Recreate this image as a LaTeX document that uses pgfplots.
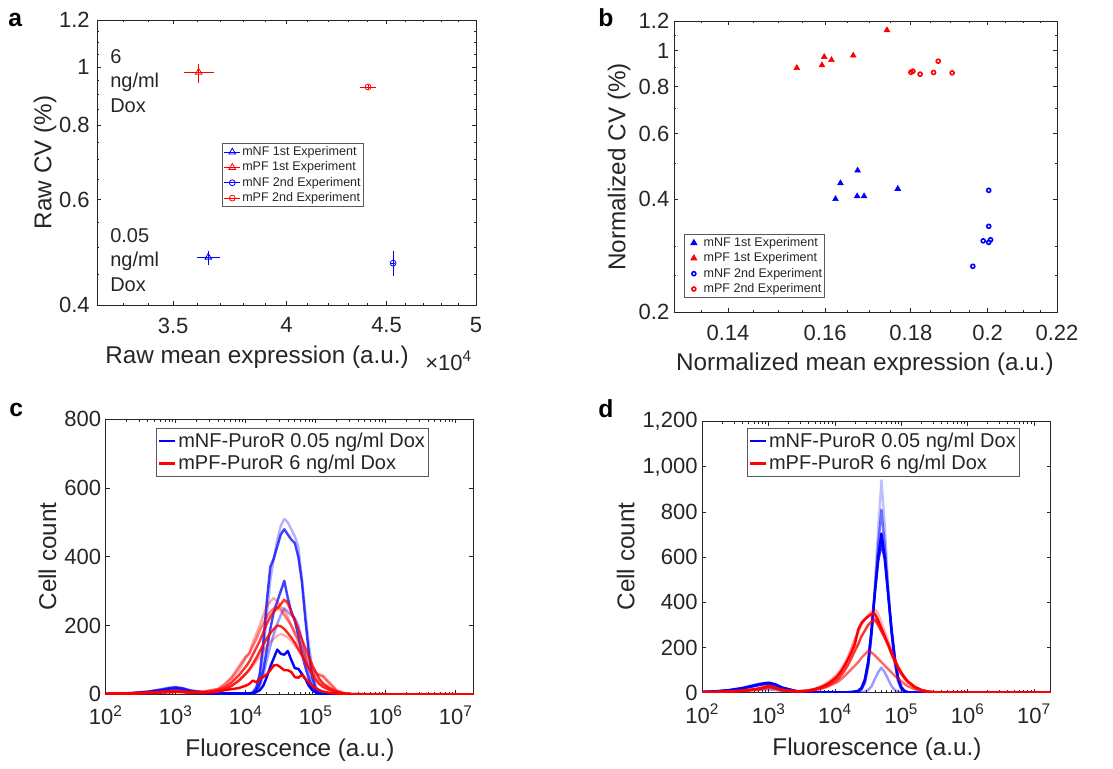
\documentclass[border=0pt]{standalone}
\usepackage{fontspec}
\setmainfont{Liberation Sans}
\usepackage{pgfplots}
\usepackage{pgfplotstable}
\pgfplotsset{compat=1.18}
\definecolor{axg}{gray}{0.15}
\definecolor{mblue}{rgb}{0,0,1}
\definecolor{mred}{rgb}{1,0,0}

\pgfplotstableread{
lx b1 b2 b3 b4 b5 r1 r2 r3 r4 r5 r6
2.0 1 1 1 1 0 1 1 1 1 1 1
2.2 2 2 2 2 1 2 2 2 2 1 2
2.4 4 4 3 4 2 3 3 3 3 2 3
2.6 8 7 6 8 3 5 4 5 5 3 4
2.8 14 13 11 15 6 7 6 7 7 5 6
2.9 18 17 14 19 8 8 7 8 8 6 7
3.0 19 20 15 21 9 9 8 9 9 7 8
3.1 15 17 12 18 7 8 8 8 8 6 8
3.2 10 11 8 12 5 6 7 6 7 5 7
3.4 5 5 4 6 3 6 8 5 6 5 8
3.5 4 4 3 5 2 8 11 6 7 6 12
3.6 3 3 3 4 2 12 15 8 8 8 15
3.7 3 3 2 3 2 20 25 14 14 12 30
3.8 2 2 2 3 2 35 45 25 24 15 50
3.9 2 2 2 2 2 55 70 40 38 18 80
4.0 3 3 2 3 2 80 105 60 58 25 110
4.05 3 3 3 3 3 95 120 72 70 30 118
4.1 5 5 3 3 3 115 150 88 82 40 140
4.15 15 20 10 8 6 135 175 105 95 35 160
4.2 45 60 30 25 12 155 200 125 110 45 185
4.25 120 150 70 55 25 180 230 145 125 50 205
4.3 230 270 130 100 50 205 255 162 140 58 225
4.35 330 370 190 140 80 225 270 178 152 70 240
4.4 395 395 240 175 105 240 280 190 162 84 250
4.45 450 430 270 205 130 250 270 200 170 85 255
4.5 490 465 300 230 118 262 255 198 175 78 245
4.55 510 480 330 250 115 275 245 190 172 70 230
4.6 500 465 280 240 126 265 225 178 165 70 215
4.65 480 450 240 230 100 240 200 165 155 65 200
4.7 460 440 215 222 76 215 175 150 142 50 180
4.75 430 400 170 200 74 190 150 132 128 48 160
4.8 340 330 120 160 60 160 125 115 112 57 140
4.85 240 220 80 110 45 135 100 95 96 45 115
4.9 145 120 45 65 25 110 80 75 80 35 95
4.95 75 50 20 30 12 85 62 58 65 25 75
5.0 25 15 7 10 5 65 50 42 55 18 62
5.05 5 4 2 3 2 45 40 30 58 12 55
5.1 2 1 0 0 0 32 30 22 55 8 52
5.2 0 0 0 0 0 18 15 12 35 4 30
5.3 0 0 0 0 0 8 6 5 12 2 10
5.4 0 0 0 0 0 3 2 2 4 1 3
5.5 0 0 0 0 0 1 0 0 1 0 1
5.7 0 0 0 0 0 0 0 0 0 0 0
6.0 0 0 0 0 0 0 0 0 0 0 0
6.5 0 0 0 0 0 0 0 0 0 0 0
7.0 0 0 0 0 0 0 0 0 0 0 0
7.25 0 0 0 0 0 0 0 0 0 0 0
}\tabc

\pgfplotstableread{
lx b1 b2 b3 b4 b5 r1 r2 r3 r4 r5
2.0 3 3 3 3 2 2 2 2 2 2
2.2 6 5 6 5 3 3 3 3 3 3
2.4 12 10 11 10 5 5 5 5 4 5
2.6 22 19 20 18 8 9 8 9 7 9
2.8 36 32 34 30 12 16 14 15 12 16
2.9 42 38 40 36 14 22 19 20 16 22
3.0 45 42 44 40 15 30 26 28 22 32
3.1 38 35 37 33 12 22 20 21 17 24
3.2 24 22 23 21 8 12 11 12 10 13
3.4 8 7 8 7 3 6 6 6 5 7
3.5 4 4 4 4 2 7 6 7 6 8
3.6 3 3 3 3 2 10 8 10 8 10
3.7 2 2 2 2 1 16 12 17 12 18
3.8 2 2 2 2 1 25 20 27 18 30
3.9 2 2 2 2 1 40 32 42 28 48
4.0 2 2 2 2 1 62 50 65 42 72
4.05 2 2 2 2 1 78 62 80 50 88
4.1 2 2 2 2 1 98 80 100 62 108
4.15 2 2 2 2 1 122 100 125 75 132
4.2 2 2 2 2 1 150 125 155 90 162
4.25 2 2 3 3 1 180 155 190 105 200
4.3 3 3 5 4 1 215 185 230 120 240
4.35 5 5 8 8 1 280 215 265 135 275
4.4 15 15 20 22 2 310 250 300 155 305
4.45 40 45 55 60 5 325 275 325 170 325
4.5 110 120 130 140 12 338 300 345 185 338
4.55 250 260 270 280 28 348 315 360 178 340
4.6 470 450 440 440 60 350 322 370 165 330
4.65 720 650 600 580 90 320 300 350 150 305
4.7 940 810 705 660 111 285 270 310 135 275
4.75 740 650 600 590 90 250 245 270 120 240
4.8 480 450 440 440 60 215 215 230 105 205
4.85 270 270 280 290 30 175 180 190 90 170
4.9 130 140 150 160 12 140 145 150 75 135
4.95 50 55 60 70 4 110 115 115 62 105
5.0 15 18 20 25 1 85 90 88 50 80
5.05 4 5 6 8 0 65 68 65 38 60
5.1 1 1 1 2 0 48 50 48 28 44
5.2 0 0 0 0 0 25 27 25 15 22
5.3 0 0 0 0 0 12 12 12 7 10
5.4 0 0 0 0 0 5 5 5 3 4
5.5 0 0 0 0 0 2 2 2 1 1
5.7 0 0 0 0 0 0 0 0 0 0
6.0 0 0 0 0 0 0 0 0 0 0
6.5 0 0 0 0 0 0 0 0 0 0
7.0 0 0 0 0 0 0 0 0 0 0
7.25 0 0 0 0 0 0 0 0 0 0
}\tabd

\newcommand\tickfont{\fontsize{16.5}{18}\selectfont}
\newcommand\labfont{\fontsize{18.2}{20}\selectfont}

\pgfplotsset{
  mat/.style={
    scale only axis, anchor=south west,
    axis line style={axg, line width=0.6pt},
    every tick/.style={axg, line width=0.6pt},
    major tick length=3pt, minor tick length=1.8pt,
    tick align=inside,
    tick label style={font=\tickfont, text=axg},
    legend cell align=left,
  },
  smallleg/.style={
    legend style={font=\fontsize{9.4}{11}\selectfont, draw=black!65, line width=0.7pt,
      inner xsep=1pt, inner ysep=1pt, row sep=0.8pt, nodes={inner sep=1.2pt}, text=axg},
  },
  bigleg/.style={
    legend style={font=\fontsize{15}{17}\selectfont, draw=black!65, line width=0.7pt,
      inner xsep=1pt, inner ysep=1.8pt, row sep=1.5pt, nodes={inner sep=1.5pt}, text=axg},
    legend image code/.code={\draw[##1] (0pt,0pt) -- (12pt,0pt);},
  },
  hist/.style={line width=1.8pt, line join=round, forget plot},
  logminor/.style={minor xtick={200,300,400,500,600,700,800,900,2000,3000,4000,5000,6000,7000,8000,9000,2e4,3e4,4e4,5e4,6e4,7e4,8e4,9e4,2e5,3e5,4e5,5e5,6e5,7e5,8e5,9e5,2e6,3e6,4e6,5e6,6e6,7e6,8e6,9e6}},
}

\begin{document}
\begin{tikzpicture}[x=0.75pt,y=-0.75pt]
\useasboundingbox (0,0) rectangle (1113,768);

% ---------------- panel a
\begin{axis}[mat, smallleg, at={(72.75pt,-228.75pt)},
  width=284.25pt, height=213.75pt,
  xmode=log, ymode=log, xmin=3.2, xmax=5, ymin=0.4, ymax=1.2,
  xtick={3.5,4,4.5,5}, xticklabels={3.5,4,4.5,5},
  minor xtick={3.3,3.4,3.6,3.7,3.8,3.9,4.1,4.2,4.3,4.4,4.6,4.7,4.8,4.9},
  ytick={0.4,0.6,0.8,1,1.2}, yticklabels={0.4,0.6,0.8,1,1.2},
  minor ytick={0.45,0.5,0.55,0.65,0.7,0.75,0.85,0.9,0.95,1.05,1.1,1.15},
  xticklabel style={yshift=-6pt},
  yticklabel style={xshift=-2pt},
  legend style={at={(0.33,0.568)}, anchor=north west},
  legend image code/.code={\draw[mark repeat=2,mark phase=2,#1] plot coordinates {(0pt,0pt) (6pt,0pt) (12pt,0pt)};},
]
\addplot[mblue, mark=triangle, mark size=2.9pt, line width=0.6pt,
  error bars/.cd, x dir=both, x explicit, y dir=both, y explicit, error mark=none]
  coordinates {(3.648,0.481) += (0.053,0.012) -= (0.048,0.014)};
\addlegendentry{mNF 1st Experiment}
\addplot[mred, mark=triangle, mark size=2.9pt, line width=0.6pt,
  error bars/.cd, x dir=both, x explicit, y dir=both, y explicit, error mark=none]
  coordinates {(3.607,0.981) += (0.065,0.033) -= (0.060,0.040)};
\addlegendentry{mPF 1st Experiment}
\addplot[mblue, mark=o, mark size=2.2pt, line width=0.6pt,
  error bars/.cd, x dir=both, x explicit, y dir=both, y explicit, error mark=none]
  coordinates {(4.535,0.470) += (0.012,0.023) -= (0.012,0.023)};
\addlegendentry{mNF 2nd Experiment}
\addplot[mred, mark=o, mark size=2.2pt, line width=0.6pt,
  error bars/.cd, x dir=both, x explicit, y dir=both, y explicit, error mark=none]
  coordinates {(4.403,0.927) += (0.044,0.008) -= (0.039,0.008)};
\addlegendentry{mPF 2nd Experiment}
\end{axis}

% ---------------- panel b
\begin{axis}[mat, smallleg, at={(505.5pt,-234pt)},
  width=287.25pt, height=218.25pt,
  xmode=log, ymode=log, xmin=0.13, xmax=0.22, ymin=0.2, ymax=1.2,
  xtick={0.14,0.16,0.18,0.2,0.22}, xticklabels={0.14,0.16,0.18,0.2,0.22},
  minor xtick={0.135,0.145,0.15,0.155,0.165,0.17,0.175,0.185,0.19,0.195,0.205,0.21,0.215},
  ytick={0.2,0.4,0.6,0.8,1,1.2}, yticklabels={0.2,0.4,0.6,0.8,1,1.2},
  minor ytick={0.25,0.3,0.5,0.7,0.9,1.1},
  xticklabel style={yshift=-6pt},
  legend style={at={(0.026,0.268)}, anchor=north west},
  legend image code/.code={\path (0pt,0pt) (11pt,0pt); \draw[#1] plot coordinates {(5.5pt,0pt)};},
]
\addplot[only marks, mblue, mark=triangle*, mark size=2.5pt]
  coordinates {(0.1623,0.401) (0.1634,0.442) (0.1672,0.408) (0.1673,0.478) (0.1688,0.408) (0.1768,0.427)};
\addlegendentry{mNF 1st Experiment}
\addplot[only marks, mred, mark=triangle*, mark size=2.5pt]
  coordinates {(0.1539,0.899) (0.1593,0.914) (0.1598,0.962) (0.1614,0.944) (0.1663,0.970) (0.1742,1.134)};
\addlegendentry{mPF 1st Experiment}
\addplot[only marks, mblue, mark=o, mark size=1.5pt, line width=1.2pt]
  coordinates {(0.2003,0.423) (0.2003,0.339) (0.1988,0.310) (0.2003,0.307) (0.2008,0.312) (0.1960,0.265)};
\addlegendentry{mNF 2nd Experiment}
\addplot[only marks, mred, mark=o, mark size=1.5pt, line width=1.2pt]
  coordinates {(0.1800,0.875) (0.1805,0.881) (0.1823,0.865) (0.1857,0.874) (0.1869,0.937) (0.1905,0.872)};
\addlegendentry{mPF 2nd Experiment}
\end{axis}

% ---------------- panel c
\begin{axis}[mat, bigleg, logminor, at={(79.3pt,-520.7pt)},
  width=275.7pt, height=206.25pt,
  xmode=log, xmin=100, xmax=1.778e7, ymin=0, ymax=800,
  xtick={1e2,1e3,1e4,1e5,1e6,1e7},
  xticklabels={10\textsuperscript{2},10\textsuperscript{3},10\textsuperscript{4},10\textsuperscript{5},10\textsuperscript{6},10\textsuperscript{7}},
  ytick={0,200,400,600,800}, yticklabels={0,200,400,600,800},
  xticklabel style={yshift=-5pt},
  legend style={at={(0.137,0.968)}, anchor=north west},
]
\addplot[hist, mblue, opacity=0.3] table[x expr=10^\thisrow{lx}, y=b1]{\tabc};
\addplot[hist, mblue, opacity=0.75] table[x expr=10^\thisrow{lx}, y=b2]{\tabc};
\addplot[hist, mblue, opacity=0.75] table[x expr=10^\thisrow{lx}, y=b3]{\tabc};
\addplot[hist, mblue, opacity=0.4] table[x expr=10^\thisrow{lx}, y=b4]{\tabc};
\addplot[hist, mblue, opacity=1] table[x expr=10^\thisrow{lx}, y=b5]{\tabc};
\addplot[hist, mred, opacity=0.8] table[x expr=10^\thisrow{lx}, y=r1]{\tabc};
\addplot[hist, mred, opacity=0.35] table[x expr=10^\thisrow{lx}, y=r2]{\tabc};
\addplot[hist, mred, opacity=0.85] table[x expr=10^\thisrow{lx}, y=r3]{\tabc};
\addplot[hist, mred, opacity=0.3] table[x expr=10^\thisrow{lx}, y=r4]{\tabc};
\addplot[hist, mred, opacity=1] table[x expr=10^\thisrow{lx}, y=r5]{\tabc};
\addplot[hist, mred, opacity=0.5] table[x expr=10^\thisrow{lx}, y=r6]{\tabc};
\addlegendimage{mblue, line width=1.8pt}
\addlegendentry{mNF-PuroR 0.05 ng/ml Dox}
\addlegendimage{mred, line width=1.8pt}
\addlegendentry{mPF-PuroR 6 ng/ml Dox}
\end{axis}

% ---------------- panel d
\begin{axis}[mat, bigleg, logminor, at={(526.7pt,-519.5pt)},
  width=261.3pt, height=203.25pt,
  xmode=log, xmin=100, xmax=1.778e7, ymin=0, ymax=1200,
  xtick={1e2,1e3,1e4,1e5,1e6,1e7},
  xticklabels={10\textsuperscript{2},10\textsuperscript{3},10\textsuperscript{4},10\textsuperscript{5},10\textsuperscript{6},10\textsuperscript{7}},
  ytick={0,200,400,600,800,1000,1200}, yticklabels={0,200,400,600,800,{1,000},{1,200}},
  xticklabel style={yshift=-5pt},
  legend style={at={(0.128,0.977)}, anchor=north west},
]
\addplot[hist, mblue, opacity=0.25] table[x expr=10^\thisrow{lx}, y=b1]{\tabd};
\addplot[hist, mblue, opacity=0.55] table[x expr=10^\thisrow{lx}, y=b2]{\tabd};
\addplot[hist, mblue, opacity=1] table[x expr=10^\thisrow{lx}, y=b3]{\tabd};
\addplot[hist, mblue, opacity=0.85] table[x expr=10^\thisrow{lx}, y=b4]{\tabd};
\addplot[hist, mblue, opacity=0.4] table[x expr=10^\thisrow{lx}, y=b5]{\tabd};
\addplot[hist, mred, opacity=1] table[x expr=10^\thisrow{lx}, y=r1]{\tabd};
\addplot[hist, mred, opacity=0.8] table[x expr=10^\thisrow{lx}, y=r2]{\tabd};
\addplot[hist, mred, opacity=0.3] table[x expr=10^\thisrow{lx}, y=r3]{\tabd};
\addplot[hist, mred, opacity=0.6] table[x expr=10^\thisrow{lx}, y=r4]{\tabd};
\addplot[hist, mred, opacity=0.35] table[x expr=10^\thisrow{lx}, y=r5]{\tabd};
\addlegendimage{mblue, line width=1.8pt}
\addlegendentry{mNF-PuroR 0.05 ng/ml Dox}
\addlegendimage{mred, line width=1.8pt}
\addlegendentry{mPF-PuroR 6 ng/ml Dox}
\end{axis}

% ---------------- labels and annotations
\begin{scope}[every node/.style={text=axg, inner sep=0pt}]
\node[font=\labfont, rotate=90] at (45,162.5) {Raw CV (\%)};
\node[font=\labfont] at (257,357) {Raw mean expression (a.u.)};
\node[font=\tickfont, anchor=base west] at (425,370) {×10\textsuperscript{4}};
\node[font=\labfont, rotate=90] at (619,167) {Normalized CV (\%)};
\node[font=\labfont] at (865,364) {Normalized mean expression (a.u.)};
\node[font=\labfont, rotate=90] at (47.5,556.5) {Cell count};
\node[font=\labfont] at (290,750.7) {Fluorescence (a.u.)};
\node[font=\labfont, rotate=90] at (625.7,556.5) {Cell count};
\node[font=\labfont] at (877,749) {Fluorescence (a.u.)};

\node[font=\fontsize{15}{17}\selectfont, anchor=base west] at (110,63) {6};
\node[font=\fontsize{15}{17}\selectfont, anchor=base west] at (110,87) {ng/ml};
\node[font=\fontsize{15}{17}\selectfont, anchor=base west] at (110,112) {Dox};
\node[font=\fontsize{15}{17}\selectfont, anchor=base west] at (110,242) {0.05};
\node[font=\fontsize{15}{17}\selectfont, anchor=base west] at (110,266) {ng/ml};
\node[font=\fontsize{15}{17}\selectfont, anchor=base west] at (110,291) {Dox};
\end{scope}
\begin{scope}[every node/.style={text=black, inner sep=0pt, anchor=base west, font=\bfseries\fontsize{18.5}{20}\selectfont}]
\node at (8,26) {a};
\node at (598,26) {b};
\node at (9,416) {c};
\node at (598,417) {d};
\end{scope}
\end{tikzpicture}
\end{document}
